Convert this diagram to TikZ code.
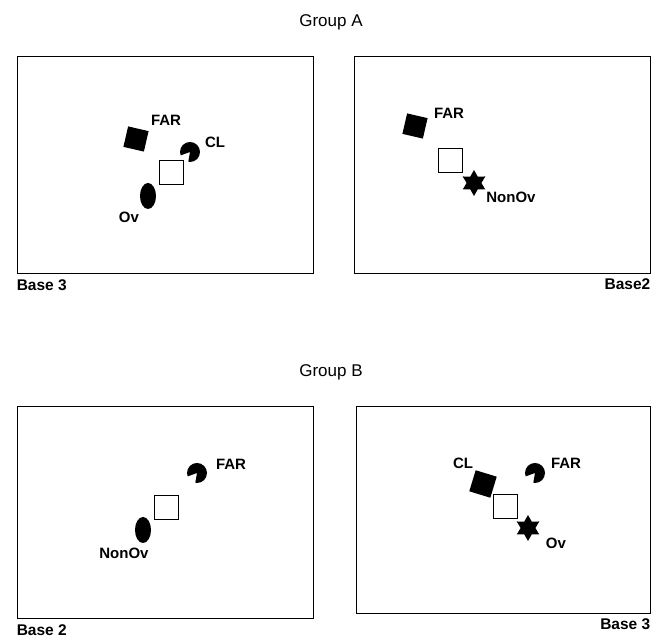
\documentclass[tikz,border=0pt]{standalone}
\usepackage{fontspec}
\setmainfont{Liberation Sans}
\usepackage{tikz}
\usetikzlibrary{shapes.geometric, positioning}

\tikzset{
    panel/.style={draw, line width=0.9pt, minimum width=296pt, minimum height=217pt, inner sep=0pt},
    grouptitle/.style={font=\fontsize{17}{19}\selectfont},
    baselabel/.style={font=\fontsize{15.5}{17}\selectfont\bfseries, inner sep=0pt},
    tag/.style={font=\fontsize{15}{17}\selectfont\bfseries, inner sep=0pt},
    openbox/.style={draw, line width=0.8pt, minimum size=24pt, inner sep=0pt},
    solidbox/.style={fill=black, minimum size=21pt, inner sep=0pt},
    oval/.style={ellipse, fill=black, minimum width=16pt, minimum height=26pt, inner sep=0pt},
    sixstar/.style={star, star points=6, star point ratio=1.75, fill=black, minimum size=26pt, inner sep=0pt},
    pacman/.style={circle, minimum size=20pt, inner sep=0pt,
        path picture={\fill (path picture bounding box.center) -- +(200:11pt)
            arc[start angle=200, end angle=-100, radius=11pt] -- cycle;}}
}

\begin{document}
\begin{tikzpicture}[x=1pt, y=1pt]
        \useasboundingbox (0,0) rectangle (665,639);

        % Group A
        \node[grouptitle] (titleA) at (331, 617) {Group A};

        % left panel
        \node[panel] (panelA1) at (165, 474.5) {};
        \node[baselabel, below right=6pt and 0pt of panelA1.south west] (baseA1) {Base 3};
        \node[solidbox, rotate=-13] (farA1) at (136, 500) {};
        \node[tag] (farA1label) at (166, 519) {FAR};
        \node[pacman] (clA1) at (190, 487) {};
        \node[tag] (clA1label) at (215, 497) {CL};
        \node[openbox] (homeA1) at (171, 466.5) {};
        \node[oval] (ovA1) at (148, 443) {};
        \node[tag] (ovA1label) at (129, 422) {Ov};

        % right panel
        \node[panel] (panelA2) at (502, 474.5) {};
        \node[baselabel, below left=5pt and 0pt of panelA2.south east] (baseA2) {Base2};
        \node[solidbox, rotate=-13] (farA2) at (415, 513) {};
        \node[tag] (farA2label) at (449, 526) {FAR};
        \node[openbox] (homeA2) at (450, 479) {};
        \node[sixstar] (nonovA2) at (474, 456) {};
        \node[tag] (nonovA2label) at (511, 442) {NonOv};

        % Group B
        \node[grouptitle] (titleB) at (331, 267) {Group B};

        % left panel
        \node[panel, minimum height=212pt] (panelB1) at (165, 127) {};
        \node[baselabel, below right=6pt and 0pt of panelB1.south west] (baseB1) {Base 2};
        \node[pacman] (farB1) at (197, 166) {};
        \node[tag] (farB1label) at (231, 175) {FAR};
        \node[openbox] (homeB1) at (166, 132) {};
        \node[oval] (nonovB1) at (143, 109) {};
        \node[tag] (nonovB1label) at (124, 86) {NonOv};

        % right panel
        \node[panel, minimum width=294pt, minimum height=207pt] (panelB2) at (503, 129.5) {};
        \node[baselabel, below left=5pt and 0pt of panelB2.south east] (baseB2) {Base 3};
        \node[tag] (clB2label) at (463, 176) {CL};
        \node[solidbox, minimum size=22pt, rotate=-17] (clB2) at (483, 155) {};
        \node[pacman] (farB2) at (535, 166) {};
        \node[tag] (farB2label) at (566, 176) {FAR};
        \node[openbox] (homeB2) at (505, 133) {};
        \node[sixstar] (ovB2) at (528, 111) {};
        \node[tag] (ovB2label) at (556, 96) {Ov};

    \end{tikzpicture}
\end{document}
